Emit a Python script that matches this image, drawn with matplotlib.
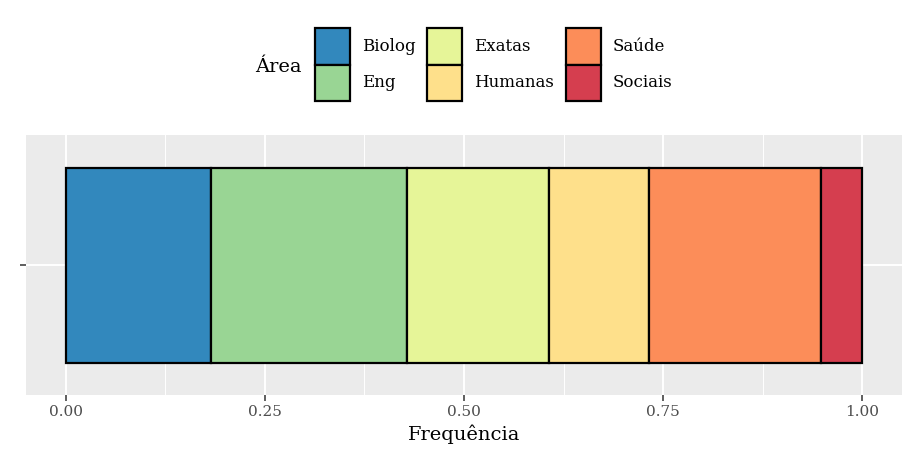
import matplotlib
matplotlib.use("Agg")
import matplotlib.pyplot as plt
from matplotlib.patches import Patch
import numpy as np

areas = ["Biolog", "Eng", "Exatas", "Humanas", "Saúde", "Sociais"]
freqs = [0.182, 0.246, 0.179, 0.125, 0.216, 0.052]
colors = ["#3288BD", "#99D594", "#E6F598", "#FEE08B", "#FC8D59", "#D53E4F"]
xticks = [0.0, 0.25, 0.5, 0.75, 1.0]
xticklabels = ["0.00", "0.25", "0.50", "0.75", "1.00"]

plt.rcParams["font.family"] = ["DejaVu Serif"]

W, H = 906, 459
fig = plt.figure(figsize=(W / 100, H / 100), dpi=100)
ax = fig.add_axes([26 / W, 1 - 395 / H, (902 - 26) / W, (395 - 135) / H])
ax.set_facecolor("#EBEBEB")

left = 0.0
for a, f, c in zip(areas, freqs, colors):
    ax.barh(1, f, left=left, height=0.9, color=c, edgecolor="black", linewidth=1.6, zorder=3)
    left += f

ax.set_xlim(-0.05, 1.05)
ax.set_ylim(0.4, 1.6)
ax.set_xticks(xticks)
ax.set_xticklabels(xticklabels)
ax.set_xticks([0.125, 0.375, 0.625, 0.875], minor=True)
ax.set_yticks([1])
ax.set_yticklabels([""])
ax.grid(which="major", color="white", linewidth=1.4, zorder=0)
ax.grid(which="minor", axis="x", color="white", linewidth=0.7, zorder=0)
ax.tick_params(axis="x", which="minor", length=0)
ax.tick_params(axis="both", which="major", length=4, width=1.1, color="#333333",
               labelcolor="#4D4D4D", labelsize=11, pad=3)
for s in ax.spines.values():
    s.set_visible(False)
ax.set_axisbelow(True)
ax.set_xlabel("Frequência", fontsize=14, color="black", labelpad=4)

handles = [Patch(facecolor=c, edgecolor="black", linewidth=1.6) for c in colors]
leg = fig.legend(handles, areas, ncol=3, loc="center left",
                 bbox_to_anchor=(315 / W, 1 - 64.5 / H), frameon=False,
                 fontsize=12, handlelength=2.1, handleheight=2.95,
                 labelspacing=0.0, handletextpad=0.7, columnspacing=0.72,
                 borderpad=0.0, borderaxespad=0.0)
fig.text(255 / W, 1 - 67 / H, "Área", fontsize=14, ha="left", va="center")

fig.savefig("out.png", dpi=100, facecolor="white")
